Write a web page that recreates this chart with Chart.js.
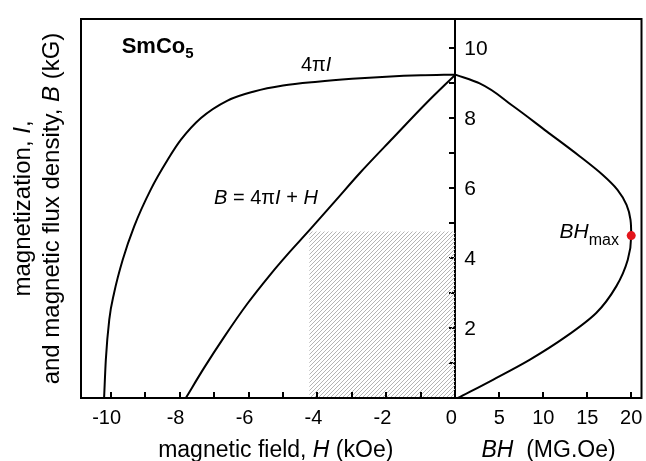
<!DOCTYPE html>
<html>
<head>
<meta charset="utf-8">
<script src="https://cdn.jsdelivr.net/npm/chart.js@4.4.1/dist/chart.umd.min.js"></script>
<style>
  html, body { margin: 0; padding: 0; background: #fff; }
  #wrap { width: 646px; height: 461px; }
</style>
</head>
<body>
<div id="wrap"><canvas id="chart" width="646" height="461"></canvas></div>
<script>
// SmCo5 demagnetization curves
// 4πI (kG) against H (kOe)
const fieldI = [-10.19, -10.14, -10.04, -9.90, -9.65, -9.32, -8.83, -8.35, -7.96, -7.38, -6.61, -5.84, -5.0, -4.0, -3.0, -2.0, -1.0, 0]
const magI = [0, 1.09, 2.24, 3.0, 3.95, 4.90, 5.97, 6.80, 7.38, 8.0, 8.50, 8.76, 8.93, 9.04, 9.12, 9.18, 9.22, 9.24]

// B = 4πI + H
const fieldB = [-7.82, -7.29, -6.71, -6.03, -5.35, -4.90, -4.22, -3.45, -2.77, -1.81, -0.84, 0]
const fluxB = [0, 0.86, 1.74, 2.70, 3.55, 4.07, 4.81, 5.67, 6.43, 7.43, 8.43, 9.24]

// energy product BH (MG.Oe) against B (kG)
const energyBH = [0.3, 4.27, 8.44, 12.61, 16.02, 18.30, 19.61, 20.0, 19.92, 19.47, 18.44, 16.74, 14.13, 10.38, 6.51, 2.76, 0]
const fluxBH = [0, 0.52, 1.09, 1.76, 2.43, 3.19, 3.95, 4.64, 5.09, 5.52, 5.95, 6.38, 6.91, 7.62, 8.35, 8.99, 9.24]

// (BH)max point and the shaded rectangle under the B line
const bhMax = [20.0, 4.64]
const rectH = [-4.24, 0]
const rectB = 4.76

const fieldTicks = [-10, -8, -6, -4, -2, 0]
const energyTicks = [5, 10, 15, 20]
const fluxTicks = [2, 4, 6, 8, 10]

// width share of the two panels (H panel, BH panel)
const panelH = 374.7
const panelBH = 186.3

const FONT = '"Liberation Sans", Arial, sans-serif'
const font = (size, style = '') => `${style} ${size}px ${FONT}`.trim()
const pts = (xs, ys) => xs.map((x, i) => ({ x, y: ys[i] }))

const canvas = document.getElementById('chart')

// diagonal hatch for the rectangle
const tile = document.createElement('canvas')
tile.width = 4
tile.height = 4
const tg = tile.getContext('2d')
tg.strokeStyle = '#b4b4b4'
tg.lineWidth = 1
tg.beginPath()
tg.moveTo(-1, 1); tg.lineTo(1, -1)
tg.moveTo(0, 4); tg.lineTo(4, 0)
tg.moveTo(3, 5); tg.lineTo(5, 3)
tg.stroke()
const hatch = canvas.getContext('2d').createPattern(tile, 'repeat')

function drawRuns(ctx, x, y, runs, align = 'left', rotate = 0) {
  ctx.save()
  ctx.translate(x, y)
  ctx.rotate(rotate)
  ctx.textBaseline = 'alphabetic'
  ctx.textAlign = 'left'
  const widths = runs.map(r => { ctx.font = r.font; return ctx.measureText(r.text).width })
  const total = widths.reduce((a, b) => a + b, 0)
  let cx = align === 'center' ? -total / 2 : align === 'right' ? -total : 0
  runs.forEach((r, i) => {
    ctx.font = r.font
    ctx.fillStyle = '#000'
    ctx.fillText(r.text, cx, r.dy || 0)
    cx += widths[i]
  })
  ctx.restore()
}

// no label overhang margins, the plot box is fixed by layout.padding
const noPad = (s, size) => {
  s.paddingLeft = 0; s.paddingRight = 0; s.paddingTop = 0; s.paddingBottom = 0
  if (s.isHorizontal()) s.height = size
  else s.width = size
}

// pin the two bottom axes to their share of the plot width
const split = {
  id: 'split',
  afterLayout(chart) {
    const { chartArea: a, scales: { xH, xBH } } = chart
    const mid = a.left + (a.right - a.left) * panelH / (panelH + panelBH)
    xH.left = a.left; xH.right = mid; xH.width = mid - a.left
    xBH.left = mid; xBH.right = a.right; xBH.width = a.right - mid
    xH.configure()
    xBH.configure()
  }
}

const decor = {
  id: 'decor',
  afterDraw(chart) {
    const { ctx, chartArea: a, scales: { xH, xBH, y } } = chart
    ctx.save()
    ctx.strokeStyle = '#000'
    ctx.lineWidth = 2
    // inward tick marks on the bottom axes
    ctx.beginPath()
    for (const s of [xH, xBH]) {
      for (const t of s.ticks) {
        const px = Math.round(s.getPixelForValue(t.value))
        ctx.moveTo(px, a.bottom)
        ctx.lineTo(px, a.bottom - 6)
      }
    }
    ctx.stroke()
    // frame
    ctx.strokeRect(a.left, a.top, a.right - a.left, a.bottom - a.top)
    ctx.restore()

    // labels inside the plot
    drawRuns(ctx, xH.getPixelForValue(-9.68), y.getPixelForValue(9.87), [
      { text: 'SmCo', font: font(22, 'bold') },
      { text: '5', font: font(15, 'bold'), dy: 5.5 }
    ])
    drawRuns(ctx, xH.getPixelForValue(-4.48), y.getPixelForValue(9.34), [
      { text: '4π', font: font(20) },
      { text: 'I', font: font(20, 'italic') }
    ])
    drawRuns(ctx, xH.getPixelForValue(-7.0), y.getPixelForValue(5.55), [
      { text: 'B', font: font(20, 'italic') },
      { text: ' = 4π', font: font(20) },
      { text: 'I', font: font(20, 'italic') },
      { text: ' + ', font: font(20) },
      { text: 'H', font: font(20, 'italic') }
    ])
    drawRuns(ctx, xBH.getPixelForValue(11.85), y.getPixelForValue(4.57), [
      { text: 'BH', font: font(21, 'italic') },
      { text: 'max', font: font(16), dy: 6.5 }
    ])

    // axis titles
    const base = a.bottom + 58.7
    drawRuns(ctx, xH.getPixelForValue(-5.21), base, [
      { text: 'magnetic field, ', font: font(23) },
      { text: 'H', font: font(23, 'italic') },
      { text: ' (kOe)', font: font(23) }
    ], 'center')
    drawRuns(ctx, xBH.getPixelForValue(10.6), base, [
      { text: 'BH', font: font(23, 'italic') },
      { text: '  (MG.Oe)', font: font(23) }
    ], 'center')
    const midY = (a.top + a.bottom) / 2
    drawRuns(ctx, 30, midY, [
      { text: 'magnetization, ', font: font(24) },
      { text: 'I', font: font(24, 'italic') },
      { text: ',', font: font(24) }
    ], 'center', -Math.PI / 2)
    drawRuns(ctx, 59.3, midY, [
      { text: 'and magnetic flux density, ', font: font(24) },
      { text: 'B', font: font(24, 'italic') },
      { text: ' (kG)', font: font(24) }
    ], 'center', -Math.PI / 2)
  }
}

const curve = { borderColor: '#000', borderWidth: 2, pointRadius: 0, fill: false }

new Chart(canvas, {
  type: 'line',
  data: {
    datasets: [
      {
        label: 'rect',
        data: pts(rectH, rectH.map(() => rectB)),
        xAxisID: 'xH', yAxisID: 'y',
        fill: 'origin', backgroundColor: hatch,
        borderWidth: 0, pointRadius: 0, order: 10
      },
      { label: '4πI', data: pts(fieldI, magI), xAxisID: 'xH', yAxisID: 'y', cubicInterpolationMode: 'monotone', ...curve },
      { label: 'B', data: pts(fieldB, fluxB), xAxisID: 'xH', yAxisID: 'y', cubicInterpolationMode: 'monotone', ...curve },
      {
        label: 'BH', data: pts(energyBH, fluxBH), xAxisID: 'xBH', yAxisID: 'y',
        indexAxis: 'y', cubicInterpolationMode: 'monotone', ...curve
      },
      {
        label: 'BHmax',
        data: [{ x: bhMax[0], y: bhMax[1] }],
        xAxisID: 'xBH', yAxisID: 'y',
        showLine: false, pointRadius: 4.5, pointBorderWidth: 0,
        pointBackgroundColor: '#e3151b', order: -1
      }
    ]
  },
  options: {
    responsive: false,
    animation: false,
    devicePixelRatio: 1,
    layout: { padding: { left: 81, top: 19, right: 4, bottom: 0 } },
    plugins: { legend: { display: false }, tooltip: { enabled: false } },
    scales: {
      xH: {
        type: 'linear', position: 'bottom', stack: 'h', stackWeight: panelH,
        min: -10.86, max: 0,
        afterFit: s => noPad(s, 63),
        grid: { drawOnChartArea: false, drawTicks: false },
        border: { display: false },
        ticks: {
          stepSize: 1, includeBounds: false, autoSkip: false, maxRotation: 0,
          padding: 8, labelOffset: -4, color: '#000', font: { family: FONT, size: 20 },
          callback: v => fieldTicks.includes(v) ? String(v) : ''
        }
      },
      xBH: {
        type: 'linear', position: 'bottom', stack: 'h', stackWeight: panelBH,
        min: 0, max: 21.17,
        afterFit: s => noPad(s, 63),
        grid: { drawOnChartArea: false, drawTicks: false },
        border: { display: false },
        ticks: {
          stepSize: 5, includeBounds: false, autoSkip: false, maxRotation: 0,
          padding: 8, color: '#000', font: { family: FONT, size: 20 },
          callback: v => energyTicks.includes(v) ? String(v) : ''
        }
      },
      y: {
        type: 'linear', position: { xH: 0 },
        min: 0, max: 10.83,
        afterFit: s => noPad(s, 0),
        grid: { drawOnChartArea: false, tickLength: 5, color: '#000', lineWidth: 2 },
        border: { display: true, color: '#000', width: 2 },
        ticks: { display: false, stepSize: 1, includeBounds: false }
      },
      yLab: {
        type: 'linear', position: { xBH: 3.67 },
        min: 0, max: 10.83,
        afterFit: s => noPad(s, 0),
        grid: { display: false },
        border: { display: false },
        ticks: {
          stepSize: 1, includeBounds: false, autoSkip: false, padding: 0, labelOffset: 1,
          color: '#000', font: { family: FONT, size: 21 },
          callback: v => fluxTicks.includes(v) ? (v < 10 ? v + '\u2007' : String(v)) : ''
        }
      }
    }
  },
  plugins: [split, decor]
})
</script>
</body>
</html>
